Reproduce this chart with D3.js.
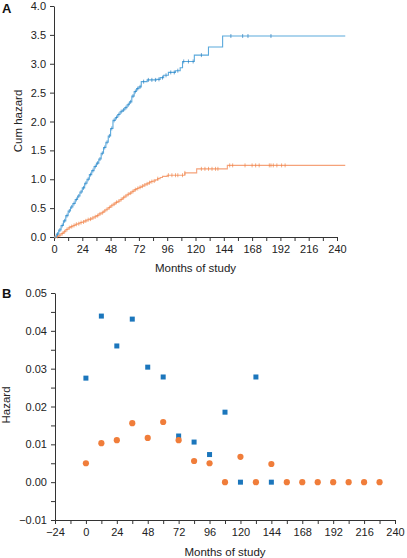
<!DOCTYPE html>
<html><head><meta charset="utf-8">
<script src="https://cdn.jsdelivr.net/npm/d3@7"></script>
<style>
body{margin:0;background:#fff;}
svg text{font-family:"Liberation Sans",Arial,Helvetica,sans-serif;}
</style></head>
<body><svg id="c" width="407" height="558"></svg>
<script>
// ---------- Panel A: cumulative hazard (step curves) ----------
const blueCumMonths = [0,2,4,6,8,10,12,14,16,18,20,22,24,26,28,30,32,34,36,38,40,42,44,46,48,50,52,54,56,58,60,62,64,66,68,70,72,74,79,87,90,93,97,103,107,109,119,131,143,247];
const blueCumValues = [0,0.05,0.12,0.20,0.28,0.37,0.45,0.52,0.58,0.65,0.71,0.78,0.85,0.93,1.00,1.08,1.15,1.22,1.28,1.35,1.45,1.55,1.64,1.75,1.88,2.02,2.07,2.12,2.17,2.20,2.24,2.29,2.34,2.44,2.52,2.57,2.60,2.69,2.72,2.73,2.76,2.80,2.85,2.88,2.93,3.04,3.15,3.29,3.48,3.48];
const orangeCumMonths = [0,2,4,6,8,10,12,14,16,18,20,22,24,26,28,30,32,34,36,38,40,42,44,46,48,50,52,54,56,58,60,62,64,66,68,70,72,74,76,78,80,82,84,86,88,90,92,96,111,121,147,247];
const orangeCumValues = [0,0.01,0.03,0.06,0.09,0.13,0.16,0.18,0.20,0.22,0.23,0.25,0.26,0.28,0.30,0.31,0.33,0.35,0.37,0.40,0.42,0.45,0.48,0.51,0.54,0.57,0.60,0.62,0.65,0.68,0.71,0.74,0.76,0.79,0.82,0.84,0.86,0.88,0.90,0.92,0.94,0.96,0.97,0.99,1.01,1.03,1.05,1.07,1.11,1.18,1.24,1.24];
const blueCensor = [3,5,7,9,11,13,15,17,19,21,23,25,27,29,31,33,35,37,39,41,43,45,47,49,51,53,55,57,59,61,63,65,67,69,71,73,76,80,83,86,89,92,95,99,102,105,110,114,118,125,150,160,164.5,184];
const orangeCensor = [1,3,5,7,9,11,13,15,17,19,21,23,25,27,29,31,33,35,37,39,41,43,45,47,49,51,53,55,57,59,61,63,65,67,69,71,73,75,77,79,81,83,85,88,97,100,103,105,109,111,125,128,131,134,137,139,149,151.5,162,168,171,174,182.6,184,186,189,193,196];
const aXTicks = [0,24,48,72,96,120,144,168,192,216,240];
const aYTicks = [0,0.5,1.0,1.5,2.0,2.5,3.0,3.5,4.0];

// ---------- Panel B: interval hazard ----------
const blueHazMonths = [0,12,24,36,48,60,72,84,96,108,120,132,144];
const blueHazValues = [0.0275,0.0439,0.0360,0.0431,0.0304,0.0278,0.0122,0.0106,0.0073,0.0185,0.0,0.0278,0.0];
const orangeHazMonths = [0,12,24,36,48,60,72,84,96,108,120,132,144,156,168,180,192,204,216,228];
const orangeHazValues = [0.0050,0.0103,0.0111,0.0156,0.0117,0.0159,0.0111,0.0056,0.0050,0,0.0067,0,0.0048,0,0,0,0,0,0,0];
const bXTicks = [-24,0,24,48,72,96,120,144,168,192,216,240];
const bYTicks = [-0.01,0,0.01,0.02,0.03,0.04,0.05];

const blueLine = "#5aa9dc", blueDark = "#1b76bc";
const orangeLine = "#f5a27a", orangeDark = "#f07d3a";
const axisCol = "#333";

const svg = d3.select("#c");

function styleAxis(g){
  g.selectAll("path.domain").attr("stroke",axisCol).attr("stroke-width",1);
  g.selectAll(".tick line").attr("stroke",axisCol).attr("stroke-width",1);
  g.selectAll("text").attr("font-size",11).attr("fill","#222").attr("font-family","'Liberation Sans',Arial,sans-serif");
}

// ===== Panel A =====
const xA = d3.scaleLinear().domain([0,240]).range([54,337]);
const yA = d3.scaleLinear().domain([0,4]).range([237,6]);

const gxA = svg.append("g").attr("transform","translate(0,237)")
  .call(d3.axisBottom(xA).tickValues(d3.range(0,241,12)).tickSize(4).tickSizeOuter(0).tickPadding(4)
    .tickFormat(d => aXTicks.includes(d) ? d : ""));
styleAxis(gxA);
const gyA = svg.append("g").attr("transform","translate(54,0)")
  .call(d3.axisLeft(yA).tickValues(aYTicks).tickSize(4).tickSizeOuter(0).tickPadding(4).tickFormat(d3.format(".1f")));
styleAxis(gyA);

function stepFn(months, values){
  return m => { let v = values[0]; for(let i=0;i<months.length;i++){ if(months[i]<=m) v = values[i]; } return v; };
}
const line = d3.line().x(d=>xA(d[0])).y(d=>yA(d[1])).curve(d3.curveStepAfter);

[[orangeCumMonths,orangeCumValues,orangeCensor,orangeLine,orangeDark],
 [blueCumMonths,blueCumValues,blueCensor,blueLine,blueDark]].forEach(([ms,vs,cs,lc,dc])=>{
  svg.append("path").datum(ms.map((m,i)=>[m,vs[i]]))
    .attr("d",line).attr("fill","none").attr("stroke",lc).attr("stroke-width",1.1);
  const f = stepFn(ms,vs);
  svg.append("g").selectAll("line").data(cs).join("line")
    .attr("x1",d=>xA(d)).attr("x2",d=>xA(d))
    .attr("y1",d=>yA(f(d))-2).attr("y2",d=>yA(f(d))+2)
    .attr("stroke",dc).attr("stroke-width",0.9).attr("opacity",0.7);
});

svg.append("text").attr("x",(54+337)/2).attr("y",272).attr("text-anchor","middle")
  .attr("font-size",11.5).attr("fill","#222").text("Months of study");
svg.append("text").attr("transform","translate(22,121) rotate(-90)").attr("text-anchor","middle")
  .attr("font-size",11.5).attr("fill","#222").text("Cum hazard");
svg.append("text").attr("x",2).attr("y",13).attr("font-size",13).attr("font-weight","bold").attr("fill","#111").text("A");

// ===== Panel B =====
const xB = d3.scaleLinear().domain([-24,240]).range([55,395]);
const yB = d3.scaleLinear().domain([-0.01,0.05]).range([520,293]);

const gxB = svg.append("g").attr("transform","translate(0,520)")
  .call(d3.axisBottom(xB).tickValues(d3.range(-24,241,12)).tickSize(4).tickSizeOuter(0).tickPadding(4)
    .tickFormat(d => bXTicks.includes(d) ? d3.format("")(d) : ""));
styleAxis(gxB);
const yMinor = d3.range(0,13).map(i => -0.01 + i*0.005);
const gyB = svg.append("g").attr("transform","translate(55,0)")
  .call(d3.axisLeft(yB).tickValues(yMinor).tickSize(4).tickSizeOuter(0).tickPadding(4)
    .tickFormat(d => bYTicks.some(t=>Math.abs(t-d)<1e-9) ? d3.format(".2f")(d) : ""));
styleAxis(gyB);

svg.append("g").selectAll("rect").data(blueHazMonths.map((m,i)=>[m,blueHazValues[i]])).join("rect")
  .attr("x",d=>xB(d[0])-2.5).attr("y",d=>yB(d[1])-2.5).attr("width",5).attr("height",5).attr("fill",blueDark);
svg.append("g").selectAll("circle").data(orangeHazMonths.map((m,i)=>[m,orangeHazValues[i]])).join("circle")
  .attr("cx",d=>xB(d[0])).attr("cy",d=>yB(d[1])).attr("r",3.1).attr("fill",orangeDark);

svg.append("text").attr("x",(55+395)/2).attr("y",556).attr("text-anchor","middle")
  .attr("font-size",11.5).attr("fill","#222").text("Months of study");
svg.append("text").attr("transform","translate(10,405) rotate(-90)").attr("text-anchor","middle")
  .attr("font-size",11.5).attr("fill","#222").text("Hazard");
svg.append("text").attr("x",2).attr("y",298).attr("font-size",13).attr("font-weight","bold").attr("fill","#111").text("B");
</script></body></html>
